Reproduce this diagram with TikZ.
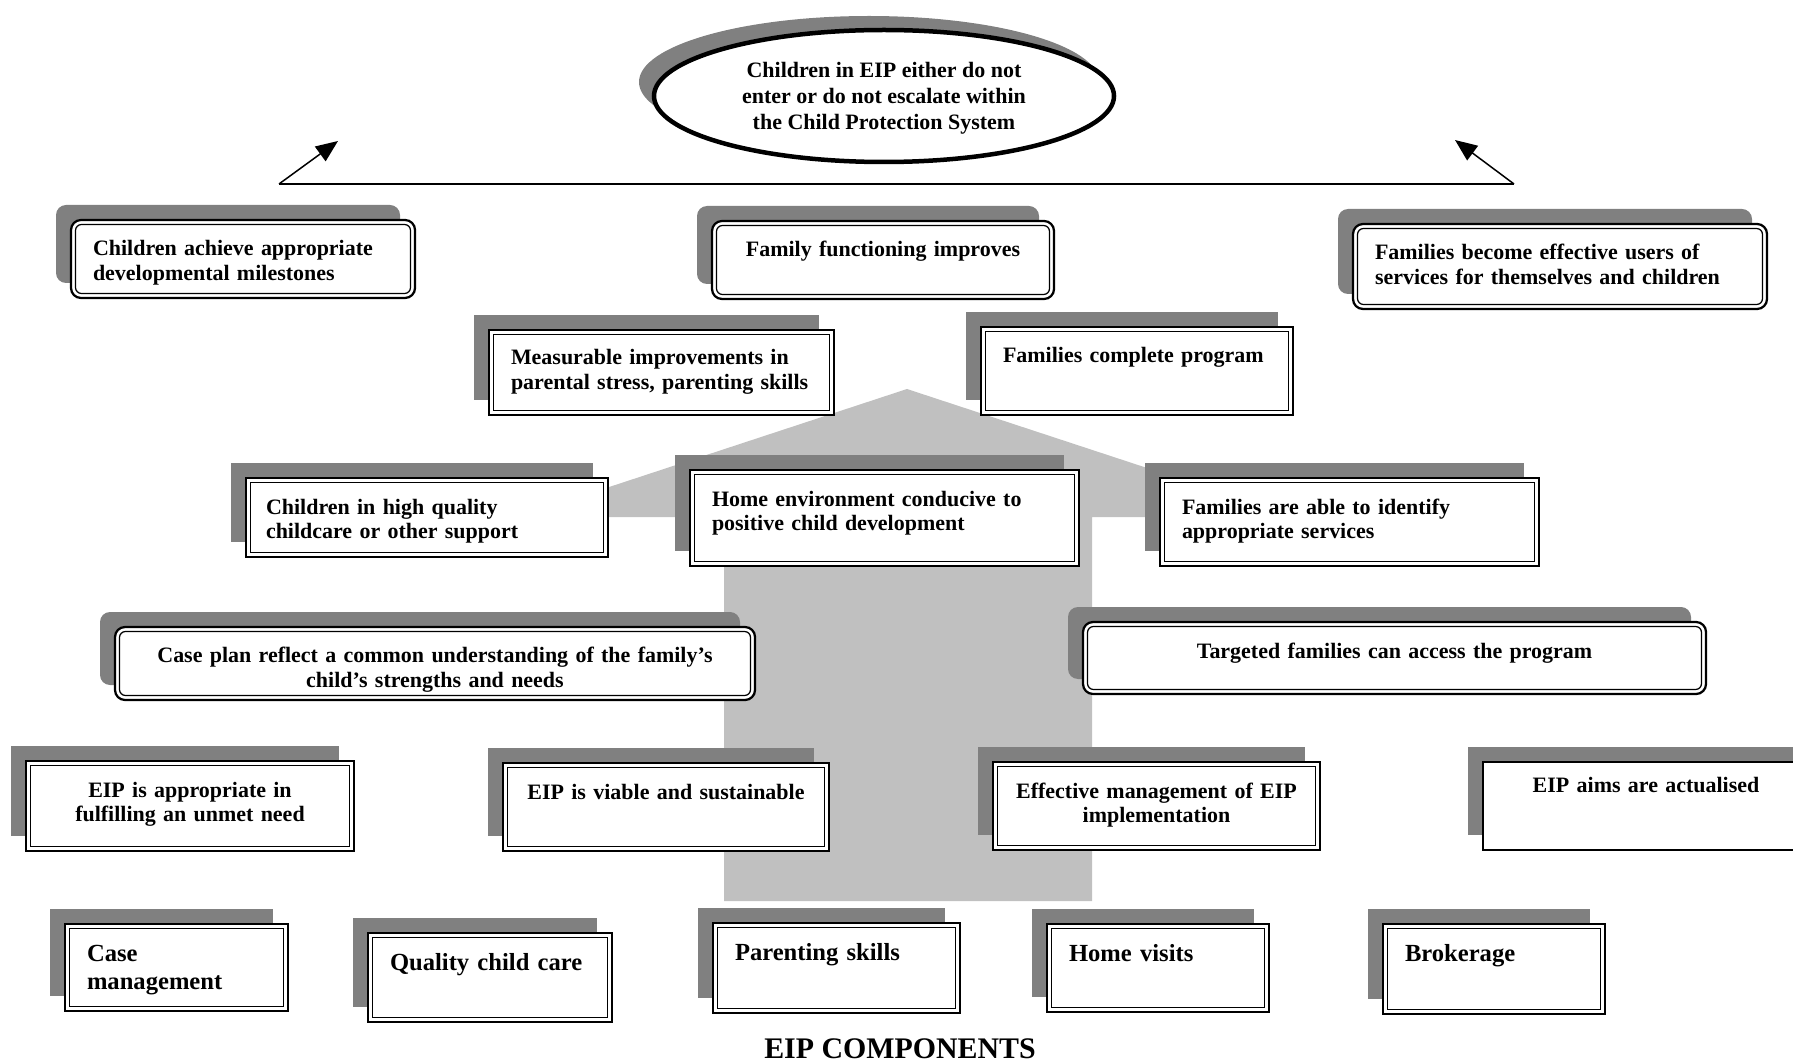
\documentclass[tikz,border=0pt]{standalone}
\usepackage{fontspec}
\setmainfont{Liberation Serif}
\usetikzlibrary{shapes.geometric,arrows.meta,shadows}
\definecolor{shadowgray}{HTML}{808080}
\definecolor{arrowgray}{HTML}{C0C0C0}

\begin{document}
\begin{tikzpicture}[x=0.2mm, y=-0.2mm,
    box/.style={rectangle, draw=black, line width=0.45mm, fill=white,
                drop shadow={shadow xshift=-3mm, shadow yshift=3mm, fill=shadowgray, opacity=1},
                inner xsep=4.4mm, inner ysep=0pt, outer sep=0pt, anchor=north west,
                text height=7.2mm, align=left, font=\bfseries\fontsize{12.5}{14.2}\selectfont},
    rbox/.style={box, rounded corners=2mm},
    comp/.style={box, text height=7.4mm, font=\bfseries\fontsize{14}{16.5}\selectfont},
    inframe/.style={draw=black, line width=0.25mm},
    goal/.style={ellipse, draw=black, line width=0.9mm, fill=white, inner sep=0pt,
                 drop shadow={shadow xshift=-3mm, shadow yshift=2.8mm, fill=shadowgray, opacity=1},
                 align=center, font=\bfseries\fontsize{12.5}{14.6}\selectfont}
]
    \useasboundingbox (0,0) rectangle (1793,1064);
    \clip (0,0) rectangle (1793,1064);

    % big up arrow behind the boxes
    \fill[arrowgray] (724,901) -- (724,517) -- (518,517) -- (907,389)
        -- (1296,517) -- (1092,517) -- (1092,901) -- cycle;

    % outcome at the top
    \node[goal, minimum width=92mm, minimum height=26.4mm, text depth=0pt] (goal) at (884,96)
        {Children in EIP either do not\\enter or do not escalate within\\the Child Protection System};

    \coordinate (hl) at (279,184);
    \coordinate (hr) at (1514,184);
    \coordinate (tl) at (338,141);
    \coordinate (tr) at (1455,140);
    \draw[line width=0.3mm] (hl) -- (hr);
    \draw[line width=0.3mm, -{Triangle[length=4.4mm,width=3.6mm]}] (hl) -- (tl);
    \draw[line width=0.3mm, -{Triangle[length=4.4mm,width=3.6mm]}] (hr) -- (tr);

    % long term outcomes
    \node[rbox, text width=60mm, text depth=8.4mm] (b1) at (71,220)
        {Children achieve appropriate\\developmental milestones};
    \node[rbox, align=center, text width=59.6mm, text depth=8.4mm] (b2) at (712,221)
        {Family functioning improves};
    \node[rbox, text width=74mm, text depth=9.8mm] (b3) at (1353,224)
        {Families become effective users of\\services for themselves and children};

    % intermediate outcomes
    \node[box, text width=60.2mm, text height=7mm, text depth=10mm] (b4) at (489,330)
        {Measurable improvements in\\parental stress, parenting skills};
    \node[box, text width=53.6mm, text depth=10.4mm] (b5) at (981,327)
        {Families complete program};
    \node[box, text width=64.4mm, text depth=8.6mm, inner xsep=4mm] (b6) at (246,478)
        {Children in high quality\\childcare or other support};
    \node[box, text width=69mm, text depth=12mm] (b7) at (690,470)
        {Home environment conducive to\\positive child development};
    \node[box, text width=67mm, text depth=10.4mm] (b8) at (1160,478)
        {Families are able to identify\\appropriate services};

    % short term outcomes
    \node[rbox, align=center, text width=119.2mm, text height=7.1mm, text depth=7.5mm] (b9) at (115,627)
        {Case plan reflect a common understanding of the family's\\child's strengths and needs};
    \node[rbox, align=center, text width=115.8mm, text height=7.2mm, text depth=7.2mm] (b10) at (1083,622)
        {Targeted families can access the program};

    % program outcomes
    \node[box, align=center, text width=56.8mm, text depth=10.8mm] (b11) at (26,761)
        {EIP is appropriate in\\fulfilling an unmet need};
    \node[box, align=center, text width=56.4mm, text depth=10.4mm] (b12) at (503,763)
        {EIP is viable and sustainable};
    \node[box, align=center, text width=56.6mm, text depth=10.4mm] (b13) at (993,762)
        {Effective management of EIP\\implementation};
    \node[box, align=center, line width=0.3mm, text width=56.4mm, text height=6mm, text depth=11.6mm] (b14) at (1483,762)
        {EIP aims are actualised};

    % components
    \node[comp, text width=35.8mm, text depth=10mm] (b15) at (65,924) {Case\\management};
    \node[comp, text width=40mm, text height=7.5mm, text depth=10.3mm] (b16) at (368,933) {Quality child care};
    \node[comp, text width=40.6mm, text depth=10.6mm] (b17) at (713,923) {Parenting skills};
    \node[comp, text width=35.6mm, text depth=10.2mm] (b18) at (1047,924) {Home visits};
    \node[comp, text width=35.6mm, text depth=10.6mm] (b19) at (1383,924) {Brokerage};

    % inner lines of the double frames
    \foreach \n in {b4,b5,b6,b7,b8,b11,b12,b13,b15,b16,b17,b18,b19}
        \draw[inframe] ([shift={(0.9mm,-0.9mm)}]\n.north west) rectangle ([shift={(-0.9mm,0.9mm)}]\n.south east);
    \foreach \n in {b1,b2,b3,b9,b10}
        \draw[inframe, rounded corners=1.2mm] ([shift={(0.9mm,-0.9mm)}]\n.north west) rectangle ([shift={(-0.9mm,0.9mm)}]\n.south east);

    \node[font=\bfseries\fontsize{17}{20}\selectfont] (title) at (900,1049) {EIP COMPONENTS};
\end{tikzpicture}
\end{document}
